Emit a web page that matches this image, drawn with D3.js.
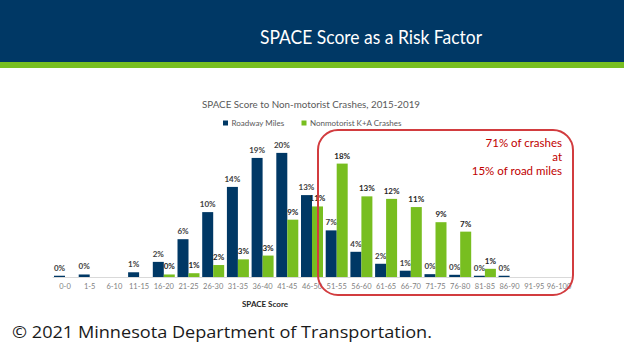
<!DOCTYPE html>
<html>
<head>
<meta charset="utf-8">
<script src="https://cdn.jsdelivr.net/npm/d3@7"></script>
<style>
  body { margin: 0; background: #fff; }
  svg { display: block; }
</style>
</head>
<body>
<div id="chart"></div>
<script>
const W = 624, H = 351;

// SPACE score bins
const categories = ['0-0', '1-5', '6-10', '11-15', '16-20', '21-25', '26-30', '31-35', '36-40', '41-45',
  '46-50', '51-55', '56-60', '61-65', '66-70', '71-75', '76-80', '81-85', '86-90', '91-95', '96-100'];
// percent of roadway miles (null = no bar)
const roadwayMiles = [0.2, 0.4, null, 0.75, 2.4, 6.0, 10.3, 14.3, 18.9, 19.7,
  13.0, 7.4, 4.0, 2.1, 1.0, 0.45, 0.35, 0.2, 0.2, null, null];
// percent of nonmotorist K+A crashes
const crashes = [null, null, null, null, 0.4, 0.6, 1.9, 2.8, 3.4, 9.1,
  11.2, 18.0, 12.8, 12.4, 11.1, 8.7, 7.2, 1.3, null, null, null];
const seriesNames = ['Roadway Miles', 'Nonmotorist K+A Crashes'];
const seriesColors = ['#003865', '#78be20'];
const note = ['71% of crashes', 'at', '15% of road miles'];

const svg = d3.select('#chart').append('svg')
  .attr('width', W).attr('height', H)
  .style('font-family', 'Lato, "Open Sans", sans-serif');

// header band
svg.append('rect').attr('x', 0).attr('y', 0).attr('width', W).attr('height', 62).attr('fill', '#003865');
svg.append('rect').attr('x', 0).attr('y', 62).attr('width', W).attr('height', 6).attr('fill', '#78be20');
svg.append('text')
  .attr('x', 260).attr('y', 44)
  .attr('textLength', 222).attr('lengthAdjust', 'spacingAndGlyphs')
  .attr('fill', '#fff').style('font-size', '20px')
  .text('SPACE Score as a Risk Factor');

const x = d3.scaleBand().domain(categories).range([52.65, 571.35]).paddingInner(0.11).paddingOuter(0.055);
const xs = d3.scaleBand().domain([0, 1]).range([0, x.bandwidth()]);
const y = d3.scaleLinear().domain([0, 20]).range([277, 151]);

// chart title
svg.append('text')
  .attr('x', 311).attr('y', 108).attr('text-anchor', 'middle')
  .attr('textLength', 218).attr('lengthAdjust', 'spacingAndGlyphs')
  .attr('fill', '#595959').style('font-size', '10px')
  .text('SPACE Score to Non-motorist Crashes, 2015-2019');

// legend
const legendX = [223, 301.5];
seriesNames.forEach((name, i) => {
  svg.append('rect').attr('x', legendX[i]).attr('y', 120.5).attr('width', 5).attr('height', 5).attr('fill', seriesColors[i]);
  svg.append('text').attr('x', legendX[i] + 8.5).attr('y', 126)
    .attr('fill', '#595959').style('font-size', '8px')
    .text(name);
});

// baseline
svg.append('line')
  .attr('x1', x.range()[0]).attr('x2', x.range()[1])
  .attr('y1', y(0) + 0.5).attr('y2', y(0) + 0.5)
  .attr('stroke', '#d9d9d9').attr('stroke-width', 1);

const series = [roadwayMiles, crashes];
series.forEach((vals, si) => {
  const pts = categories.map((c, i) => ({ c, v: vals[i] })).filter(d => d.v !== null);
  svg.append('g').selectAll('rect').data(pts).enter().append('rect')
    .attr('x', d => x(d.c) + xs(si))
    .attr('y', d => y(d.v))
    .attr('width', xs.bandwidth())
    .attr('height', d => y(0) - y(d.v))
    .attr('fill', seriesColors[si]);
  svg.append('g').selectAll('text').data(pts).enter().append('text')
    .attr('x', d => x(d.c) + xs(si) + xs.bandwidth() / 2)
    .attr('y', d => y(d.v) - 5)
    .attr('text-anchor', 'middle')
    .attr('fill', si === 0 ? '#404040' : '#262626')
    .style('font-size', '8px')
    .style('font-weight', 'bold')
    .text(d => Math.round(d.v) + '%');
});

// category axis
const xAxis = svg.append('g')
  .attr('transform', `translate(0,${y(0)})`)
  .call(d3.axisBottom(x).tickSize(0).tickPadding(7));
xAxis.select('.domain').remove();
xAxis.selectAll('text')
  .attr('fill', '#7f7f7f')
  .style('font-size', '7.5px')
  .style('font-family', 'Lato, "Open Sans", sans-serif');

svg.append('text')
  .attr('x', 265).attr('y', 307).attr('text-anchor', 'middle')
  .attr('fill', '#262626').style('font-size', '8px').style('font-weight', 'bold')
  .text('SPACE Score');

// highlight box
svg.append('rect')
  .attr('x', 318).attr('y', 130).attr('width', 255).attr('height', 165)
  .attr('rx', 20).attr('ry', 20)
  .attr('fill', 'none').attr('stroke', '#d23c3f').attr('stroke-width', 2);
note.forEach((t, i) => {
  svg.append('text')
    .attr('x', 562).attr('y', 147 + i * 14)
    .attr('text-anchor', 'end')
    .attr('fill', '#c00000').style('font-size', '11.5px')
    .text(t);
});

// footer
svg.append('text')
  .attr('x', 12).attr('y', 338)
  .attr('textLength', 420).attr('lengthAdjust', 'spacingAndGlyphs')
  .attr('fill', '#1a1a1a').style('font-size', '17px')
  .style('font-family', '"Open Sans", sans-serif')
  .text('\u00a9 2021 Minnesota Department of Transportation.');
</script>
</body>
</html>
